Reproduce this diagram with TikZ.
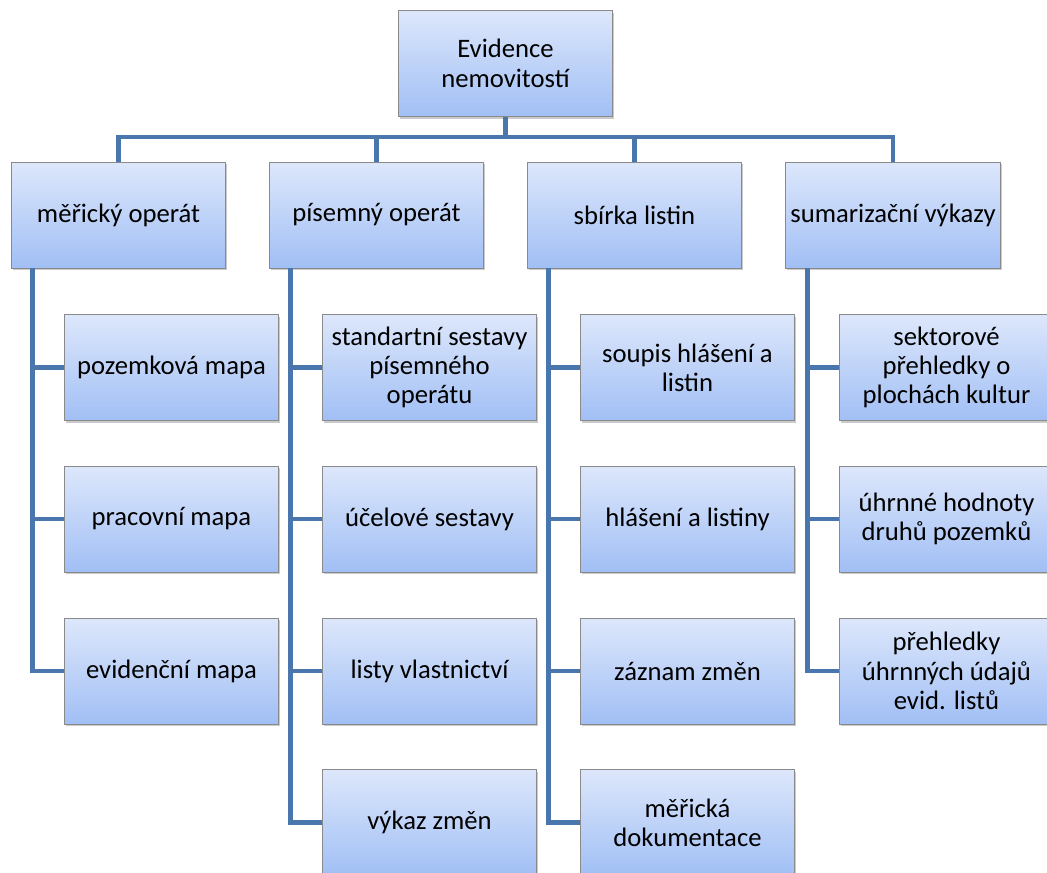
\documentclass[tikz,border=0pt]{standalone}
\usepackage{fontspec}
\setmainfont{Carlito}
\usepackage[HTML]{xcolor}
\usepackage{tikz}
\usetikzlibrary{positioning, shadows}

\definecolor{linkblue}{HTML}{4A76AE}
\definecolor{boxtop}{HTML}{DDE7FB}
\definecolor{boxbot}{HTML}{A1BFF5}
\definecolor{boxline}{HTML}{8A8A8A}

\tikzset{
  box/.style={draw=boxline, line width=0.6pt, top color=boxtop, bottom color=boxbot,
    minimum width=161pt, minimum height=79.5pt, align=center,
    font=\fontsize{20}{22}\selectfont,
    drop shadow={shadow xshift=1.2pt, shadow yshift=-1.8pt, opacity=0.35, fill=black!60}},
  link/.style={draw=linkblue, line width=3.6pt}
}

\begin{document}
\begin{tikzpicture}[x=0.75pt, y=-0.75pt]
\useasboundingbox (0,0) rectangle (1047,872);
\clip (0,0) rectangle (1047,872);
% top
\node[box] (ev) at (505.5,63.5) {Evidence\\nemovitostí};
% first level
\node[box] (mo) at (118.5,215) {měřický operát};
\node[box] (po) at (376.5,215) {písemný operát};
\node[box] (sl) at (634.5,215) {sbírka listin};
\node[box] (sv) at (893,215) {sumarizační výkazy};
% measurement part
\node[box] (pm) at (171.5,367.5) {pozemková mapa};
\node[box] (pr) at (171.5,519) {pracovní mapa};
\node[box] (em) at (171.5,671) {evidenční mapa};
% written part
\node[box] (ss) at (429.5,367.5) {standartní sestavy\\písemného\\operátu};
\node[box] (us) at (429.5,519) {účelové sestavy};
\node[box] (lv) at (429.5,671) {listy vlastnictví};
\node[box] (vz) at (429.5,822.5) {výkaz změn};
% documents
\node[box] (sh) at (687.5,367.5) {soupis hlášení a\\listin};
\node[box] (hl) at (687.5,519) {hlášení a listiny};
\node[box] (zz) at (687.5,671) {záznam změn};
\node[box] (md) at (687.5,822.5) {měřická\\dokumentace};
% summaries
\node[box] (sp) at (946.5,367.5) {sektorové\\přehledky o\\plochách kultur};
\node[box] (uh) at (946.5,519) {úhrnné hodnoty\\druhů pozemků};
\node[box] (pu) at (946.5,671) {přehledky\\úhrnných údajů\\evid. listů};
% connectors from the top
\coordinate (bar) at (505.5,137);
\draw[link] (ev.south) -- (bar) -| (mo.north);
\draw[link] (bar) -| (po.north);
\draw[link] (bar) -| (sl.north);
\draw[link] (bar) -| (sv.north);
% connectors to the children
\draw[link] ([xshift=16.5pt]mo.south west) |- (pm.west);
\draw[link] ([xshift=16.5pt]mo.south west) |- (pr.west);
\draw[link] ([xshift=16.5pt]mo.south west) |- (em.west);
\draw[link] ([xshift=16.5pt]po.south west) |- (ss.west);
\draw[link] ([xshift=16.5pt]po.south west) |- (us.west);
\draw[link] ([xshift=16.5pt]po.south west) |- (lv.west);
\draw[link] ([xshift=16.5pt]po.south west) |- (vz.west);
\draw[link] ([xshift=16.5pt]sl.south west) |- (sh.west);
\draw[link] ([xshift=16.5pt]sl.south west) |- (hl.west);
\draw[link] ([xshift=16.5pt]sl.south west) |- (zz.west);
\draw[link] ([xshift=16.5pt]sl.south west) |- (md.west);
\draw[link] ([xshift=16.5pt]sv.south west) |- (sp.west);
\draw[link] ([xshift=16.5pt]sv.south west) |- (uh.west);
\draw[link] ([xshift=16.5pt]sv.south west) |- (pu.west);
\end{tikzpicture}
\end{document}
